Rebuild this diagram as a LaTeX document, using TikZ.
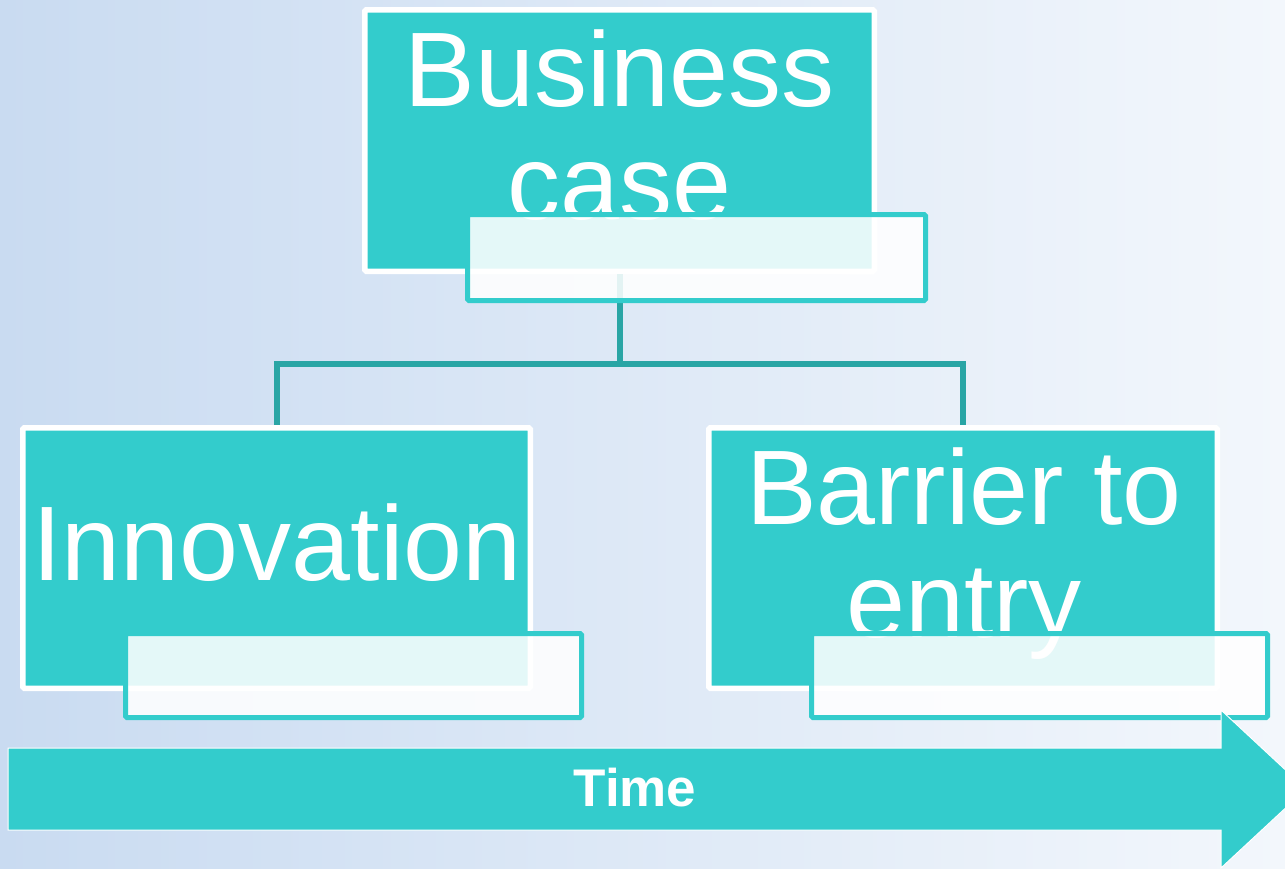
\documentclass[tikz,border=0pt]{standalone}
\usepackage{fontspec}
\setmainfont{Liberation Sans}
\begin{document}
\begin{tikzpicture}[x=1pt, y=-1pt,
  mainbox/.style={rectangle, rounded corners=1.5pt, fill=boxcol, draw=white, line width=5.5pt, inner sep=0pt},
  lblbox/.style={rectangle, rounded corners=1.5pt, fill=white, fill opacity=0.87, draw=boxcol, line width=5pt, inner sep=0pt},
  boxtext/.style={text=white, align=center, inner sep=0pt, font=\fontsize{106}{113}\selectfont},
  conn/.style={draw=conncol, line width=6pt}]
\definecolor{boxcol}{HTML}{33CCCC}
\definecolor{conncol}{HTML}{29A5A5}
\definecolor{bgleft}{HTML}{C9DBF1}
\definecolor{bgright}{HTML}{F3F7FC}
\useasboundingbox (0,0) rectangle (1285,868);
\clip (0,0) rectangle (1285,868);
\shade[left color=bgleft, right color=bgright] (0,0) rectangle (1285,868);
% boxes
\node[mainbox, minimum width=509.5pt, minimum height=261.5pt] (bizbox) at (619.5,140.5) {};
\node[mainbox, minimum width=507.5pt, minimum height=260.5pt] (innobox) at (276.5,558) {};
\node[mainbox, minimum width=508.5pt, minimum height=260.5pt] (barrbox) at (963,558) {};
\node[boxtext, anchor=north] (biztxt) at (619.5,29) {Business\\case};
\node[boxtext, anchor=base] (innotxt) at (277,580) {Innovation};
\node[boxtext, anchor=north] (barrtxt) at (964,447) {Barrier to\\entry};
% tree lines
\draw[conn] (bizbox.south) -- ++(0,90) coordinate (fork) -| (innobox.north);
\draw[conn] (fork) -| (barrbox.north);
% label boxes
\node[lblbox, minimum width=458pt, minimum height=86pt] (bizlbl) at (696.5,257.5) {};
\node[lblbox, minimum width=456pt, minimum height=84pt] (innolbl) at (353.5,675.5) {};
\node[lblbox, minimum width=456pt, minimum height=84pt] (barrlbl) at (1039.5,675.5) {};
% time arrow
\filldraw[fill=boxcol, draw=white, line width=1pt] (8,748) -- (1221,748) -- (1221,710) -- (1306,789) -- (1221,868) -- (1221,830) -- (8,830) -- cycle;
\node[text=white, anchor=base, font=\bfseries\fontsize{53}{60}\selectfont] (timetxt) at (635,806) {Time};
\end{tikzpicture}
\end{document}
